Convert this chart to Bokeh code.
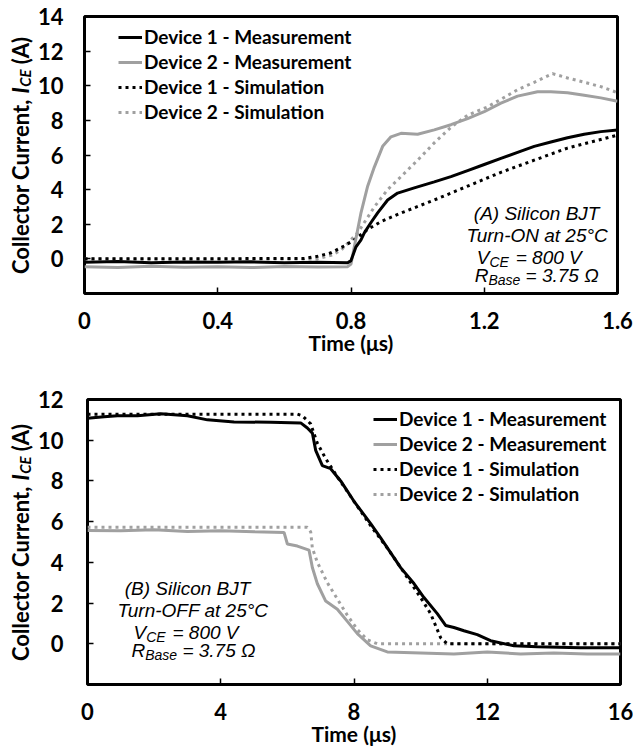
from math import pi
from bokeh.plotting import figure
from bokeh.models import Label, Legend, LegendItem, FixedTicker
from bokeh.layouts import column, row
from bokeh.embed import file_html
from bokeh.resources import INLINE

# ---------------- data: (A) turn-ON, time in us, current in A ----------------
on_d1_meas_t = [0, 0.1, 0.2, 0.3, 0.4, 0.5, 0.6, 0.7, 0.79, 0.80, 0.815, 0.83, 0.84, 0.86, 0.88,
                0.91, 0.94, 0.99, 1.05, 1.10, 1.15, 1.20, 1.25, 1.30, 1.35, 1.40, 1.45, 1.50, 1.55, 1.60]
on_d1_meas_i = [-0.2, -0.15, -0.22, -0.18, -0.2, -0.17, -0.22, -0.2, -0.22, -0.1, 0.7, 1.1, 1.5, 2.1, 2.66,
                3.4, 3.8, 4.1, 4.45, 4.75, 5.1, 5.45, 5.8, 6.15, 6.5, 6.75, 7.0, 7.2, 7.35, 7.45]

on_d2_meas_t = [0, 0.1, 0.2, 0.3, 0.4, 0.5, 0.6, 0.7, 0.79, 0.80, 0.81, 0.83, 0.85, 0.87, 0.895,
                0.92, 0.95, 1.00, 1.05, 1.10, 1.15, 1.20, 1.25, 1.30, 1.36, 1.40, 1.45, 1.50, 1.55, 1.60]
on_d2_meas_i = [-0.45, -0.5, -0.42, -0.48, -0.45, -0.5, -0.44, -0.47, -0.45, -0.3, 0.7, 2.66, 4.2, 5.3, 6.5,
                7.05, 7.25, 7.2, 7.45, 7.75, 8.1, 8.5, 9.0, 9.4, 9.65, 9.65, 9.6, 9.45, 9.3, 9.1]

on_d1_sim_t = [0, 0.66, 0.70, 0.74, 0.78, 0.81, 0.85, 0.89, 0.95, 1.05, 1.15, 1.25, 1.35, 1.45, 1.60]
on_d1_sim_i = [0.0, 0.02, 0.15, 0.35, 0.75, 1.1, 1.7, 2.15, 2.65, 3.4, 4.2, 5.0, 5.7, 6.4, 7.15]

on_d2_sim_t = [0, 0.70, 0.74, 0.77, 0.82, 0.87, 0.91, 0.95, 1.00, 1.05, 1.10, 1.15, 1.21,
               1.30, 1.35, 1.405, 1.45, 1.50, 1.55, 1.60]
on_d2_sim_i = [0.0, 0.0, 0.2, 0.5, 1.5, 3.0, 4.0, 4.75, 5.7, 6.7, 7.6, 8.3, 8.78,
               9.77, 10.2, 10.7, 10.45, 10.2, 9.95, 9.6]

on_xticks = [0, 0.4, 0.8, 1.2, 1.6]
on_xlabels = ["0", "0.4", "0.8", "1.2", "1.6"]
on_yticks = [0, 2, 4, 6, 8, 10, 12, 14]

# ---------------- data: (B) turn-OFF ----------------
off_d1_meas_t = [0, 0.5, 0.9, 1.5, 2.2, 3.0, 3.6, 4.4, 5.5, 6.4, 6.6, 6.75, 6.85, 7.05, 7.3, 7.6,
                 8.0, 8.5, 8.8, 9.4, 9.8, 10.1, 10.5, 10.75, 11.0, 11.3, 11.7, 12.1, 12.8, 13.5, 14.8, 15.5, 16]
off_d1_meas_i = [11.08, 11.15, 11.2, 11.2, 11.3, 11.2, 11.0, 10.9, 10.88, 10.85, 10.6, 10.35, 9.5, 8.75, 8.6, 8.0,
                 7.0, 5.9, 5.2, 3.74, 2.96, 2.27, 1.48, 0.9, 0.8, 0.64, 0.45, 0.15, -0.1, -0.15, -0.2, -0.2, -0.2]

off_d2_meas_t = [0, 1, 2, 3, 4, 5, 5.9, 6.0, 6.3, 6.65, 6.75, 6.9, 7.15, 7.5, 7.8, 8.1, 8.5, 9.0,
                 10, 11, 12, 13, 14, 15, 16]
off_d2_meas_i = [5.57, 5.55, 5.6, 5.52, 5.55, 5.5, 5.47, 4.9, 4.8, 4.6, 3.75, 2.95, 2.1, 1.7, 1.1, 0.5, -0.1, -0.4,
                 -0.45, -0.5, -0.4, -0.5, -0.45, -0.5, -0.5]

off_d1_sim_t = [0, 6.3, 6.45, 6.7, 6.9, 7.15, 7.5, 8.0, 8.5, 9.0, 9.5, 10.0, 10.3, 10.6, 10.8, 16]
off_d1_sim_i = [11.28, 11.28, 11.2, 10.8, 9.85, 9.1, 8.2, 7.0, 5.8, 4.7, 3.5, 2.27, 1.48, 0.3, 0.0, 0.0]

off_d2_sim_t = [0, 6.6, 6.7, 6.75, 6.9, 7.2, 7.5, 7.8, 8.1, 8.4, 8.7, 16]
off_d2_sim_i = [5.72, 5.72, 5.5, 4.7, 4.0, 3.0, 2.2, 1.4, 0.7, 0.2, 0.0, 0.0]

off_xticks = [0, 4, 8, 12, 16]
off_xlabels = ["0", "4", "8", "12", "16"]
off_yticks = [0, 2, 4, 6, 8, 10, 12]

series_labels = ["Device 1 - Measurement", "Device 2 - Measurement",
                 "Device 1 - Simulation", "Device 2 - Simulation"]

BLACK = "#000000"
GREY = "#a0a0a0"
BOLD_FONT = "Lato"
ITAL_FONT = "Liberation Sans"
TITLE_W = 34


def lab(p, x, y, s, size, font=ITAL_FONT, style="italic", align="left", angle=0):
    p.add_layout(Label(x=x, y=y, text=s, text_font=font, text_font_style=style,
                       text_font_size=f"{size}px", text_color="black", text_align=align,
                       text_baseline="alphabetic", angle=angle))


class Panel:
    def __init__(self, page_top, height, fl, fr, ft, fb, xr, yr):
        self.page_top = page_top
        self.height = height
        self.fl, self.fr, self.ft, self.fb = fl, fr, ft, fb
        self.xr, self.yr = xr, yr
        self.p = figure(width=633 - TITLE_W, height=height, output_backend="svg", toolbar_location=None,
                        x_range=xr, y_range=yr,
                        min_border_left=fl - TITLE_W, min_border_right=633 - fr,
                        min_border_top=ft - page_top, min_border_bottom=page_top + height - fb)
        # narrow strip on the left holding the rotated axis title; its frame lines up with
        # the plot frame, so its y range is the (negated) page pixel span of that frame
        self.t = figure(width=TITLE_W, height=height, output_backend="svg", toolbar_location=None,
                        x_range=(0, TITLE_W), y_range=(-fb, -ft), x_axis_type=None, y_axis_type=None,
                        min_border_left=0, min_border_right=0,
                        min_border_top=ft - page_top, min_border_bottom=page_top + height - fb)
        self.t.grid.visible = False
        self.t.outline_line_color = None

    def dx(self, px):
        return self.xr[0] + (px - self.fl) / (self.fr - self.fl) * (self.xr[1] - self.xr[0])

    def dy(self, py):
        return self.yr[1] - (py - self.ft) / (self.fb - self.ft) * (self.yr[1] - self.yr[0])

    def text(self, px, py, s, size, font=ITAL_FONT, style="italic", align="left"):
        lab(self.p, self.dx(px), self.dy(py), s, size, font, style, align)

    def rtext(self, px, py, s, size, style):
        lab(self.t, px, -py, s, size, BOLD_FONT, style, angle=pi / 2)


def build(panel, xticks, xlabels, yticks, data, ylab_std, xlab_std, title_std, legend_xy):
    p = panel.p
    p.grid.visible = False
    p.outline_line_color = "black"
    p.outline_line_width = 3
    p.background_fill_color = "white"
    p.border_fill_color = "white"

    for ax in (p.xaxis[0], p.yaxis[0]):
        ax.axis_line_color = None
        ax.major_tick_in = 6
        ax.major_tick_out = 0
        ax.major_tick_line_width = 1.5
        ax.major_tick_line_color = "black"
        ax.minor_tick_line_color = None
        ax.major_label_text_font = BOLD_FONT
        ax.major_label_text_font_style = "bold"
        ax.major_label_text_font_size = "22px"
        ax.major_label_text_color = "black"
    p.xaxis[0].ticker = FixedTicker(ticks=xticks)
    p.xaxis[0].major_label_overrides = {t: l for t, l in zip(xticks, xlabels)}
    p.yaxis[0].ticker = FixedTicker(ticks=yticks)
    p.yaxis[0].major_label_standoff = ylab_std
    p.xaxis[0].major_label_standoff = xlab_std
    p.xaxis[0].axis_label = "Time (μs)"
    p.xaxis[0].axis_label_text_font = BOLD_FONT
    p.xaxis[0].axis_label_text_font_style = "bold"
    p.xaxis[0].axis_label_text_font_size = "21px"
    p.xaxis[0].axis_label_text_color = "black"
    p.xaxis[0].axis_label_standoff = title_std

    (t1m, i1m), (t2m, i2m), (t1s, i1s), (t2s, i2s) = data
    r2s = p.line(t2s, i2s, line_color=GREY, line_width=3, line_dash="3 4")
    r1s = p.line(t1s, i1s, line_color=BLACK, line_width=3, line_dash="3 4")
    r2m = p.line(t2m, i2m, line_color=GREY, line_width=3)
    r1m = p.line(t1m, i1m, line_color=BLACK, line_width=3)

    items = [LegendItem(label=lb, renderers=[r]) for lb, r in zip(series_labels, [r1m, r2m, r1s, r2s])]
    leg = Legend(items=items, location=legend_xy, label_text_font=BOLD_FONT, label_text_font_style="bold",
                 label_text_font_size="19px", label_text_color="black", glyph_width=24, glyph_height=20,
                 label_height=20, label_standoff=2, spacing=2, padding=0, margin=0,
                 border_line_color=None, background_fill_alpha=0)
    p.add_layout(leg)
    return p


def y_title(panel, center_py):
    # rotated "Collector Current, I_CE (A)", reading upward
    base_x = 20
    y0 = center_py + 119
    panel.rtext(base_x, y0, "Collector Current,", 22, "bold")
    panel.rtext(base_x, y0 - 180.6, "I", 22, "bold italic")
    panel.rtext(base_x + 4, y0 - 187.2, "CE", 15, "bold italic")
    panel.rtext(base_x, y0 - 209.7, "(A)", 22, "bold")


def note(panel, l1, l2, c1, c2, vx, rx, b):
    panel.text(c1, b[0], l1, 19, align="center")
    panel.text(c2, b[1], l2, 19, align="center")
    panel.text(vx, b[2], "V", 19)
    panel.text(vx + 12.7, b[2] + 4, "CE", 14)
    panel.text(vx + 39.0, b[2], "= 800 V", 19)
    panel.text(rx, b[3], "R", 19)
    panel.text(rx + 13.7, b[3] + 4, "Base", 14)
    panel.text(rx + 50.9, b[3], "= 3.75 Ω", 19)


# ---------------- top panel ----------------
top = Panel(0, 375, 83, 617, 16, 293, (0, 1.6), (-2, 14))
build(top, on_xticks, on_xlabels, on_yticks,
      [(on_d1_meas_t, on_d1_meas_i), (on_d2_meas_t, on_d2_meas_i),
       (on_d1_sim_t, on_d1_sim_i), (on_d2_sim_t, on_d2_sim_i)],
      ylab_std=21, xlab_std=18, title_std=-2, legend_xy=(34, 170))
y_title(top, 154.5)
note(top, "(A) Silicon BJT", "Turn-ON at 25°C", 536, 536.5, 476, 474, [213, 235, 257, 275])

# ---------------- bottom panel ----------------
bot = Panel(375, 377, 87, 620, 399, 684, (0, 16), (-2, 12))
build(bot, off_xticks, off_xlabels, off_yticks,
      [(off_d1_meas_t, off_d1_meas_i), (off_d2_meas_t, off_d2_meas_i),
       (off_d1_sim_t, off_d1_sim_i), (off_d2_sim_t, off_d2_sim_i)],
      ylab_std=24, xlab_std=18, title_std=-2, legend_xy=(286, 179))
y_title(bot, 541.5)
note(bot, "(B) Silicon BJT", "Turn-OFF at 25°C", 187, 192.5, 133, 131, [588, 610, 632, 650])

layout = column(row(top.t, top.p, spacing=0), row(bot.t, bot.p, spacing=0), spacing=0)
open("out.html", "w").write(file_html(layout, INLINE))
